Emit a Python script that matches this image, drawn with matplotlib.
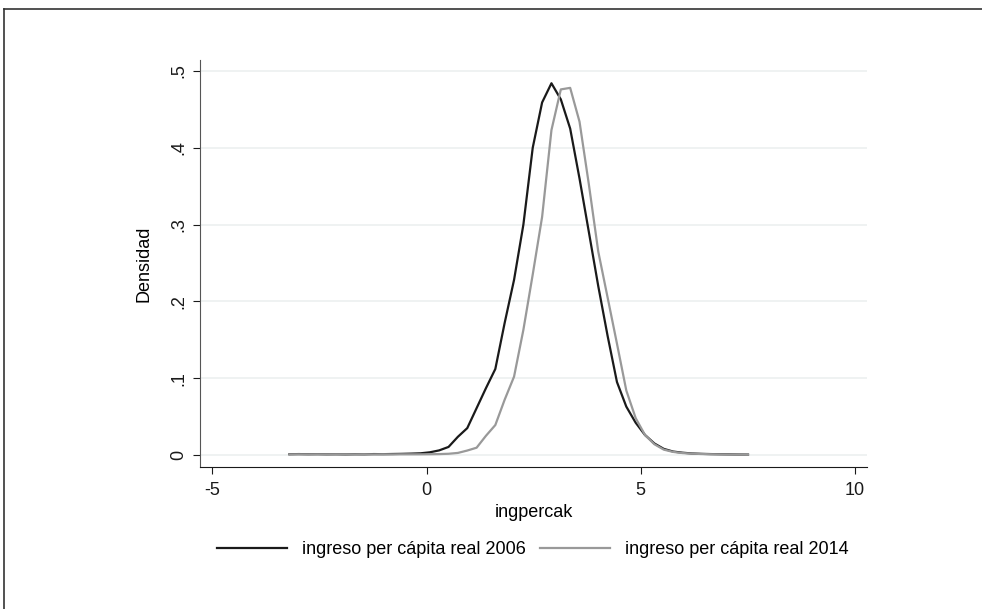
import matplotlib.pyplot as plt
from matplotlib.lines import Line2D

plt.rcParams['font.family'] = ['Liberation Sans', 'DejaVu Sans']
plt.rcParams['axes.unicode_minus'] = False

# kernel density estimates evaluated on a common grid
x_grid = [-3.200, -2.982, -2.763, -2.545, -2.326, -2.108, -1.890, -1.671, -1.453, -1.234,
          -1.016, -0.798, -0.579, -0.361, -0.142, 0.076, 0.294, 0.513, 0.731, 0.950,
          1.168, 1.386, 1.605, 1.823, 2.042, 2.260, 2.478, 2.697, 2.915, 3.134,
          3.352, 3.570, 3.789, 4.007, 4.226, 4.444, 4.662, 4.881, 5.099, 5.318,
          5.536, 5.754, 5.973, 6.191, 6.410, 6.628, 6.846, 7.065, 7.283, 7.502]

dens_2006 = [0.0010, 0.0012, 0.0010, 0.0011, 0.0009, 0.0010, 0.0008, 0.0010, 0.0009, 0.0012,
             0.0011, 0.0013, 0.0015, 0.0018, 0.0022, 0.0035, 0.0060, 0.0105, 0.0237, 0.035,
             0.061, 0.087, 0.112, 0.172, 0.228, 0.300, 0.400, 0.459, 0.484, 0.463,
             0.425, 0.360, 0.290, 0.220, 0.155, 0.095, 0.063, 0.042, 0.026, 0.015,
             0.008, 0.0045, 0.0030, 0.0020, 0.0015, 0.0012, 0.0010, 0.0008, 0.0006, 0.0005]

dens_2014 = [0.0008, 0.0009, 0.0008, 0.0009, 0.0008, 0.0009, 0.0008, 0.0008, 0.0009, 0.0008,
             0.0009, 0.0008, 0.0009, 0.0009, 0.0009, 0.0010, 0.0012, 0.0016, 0.0027, 0.0058,
             0.0095, 0.025, 0.039, 0.072, 0.102, 0.163, 0.235, 0.310, 0.423, 0.476,
             0.478, 0.434, 0.352, 0.265, 0.205, 0.145, 0.084, 0.048, 0.026, 0.014,
             0.007, 0.004, 0.0025, 0.0018, 0.0013, 0.0010, 0.0008, 0.0006, 0.0005, 0.0004]

x_ticks = [-5, 0, 5, 10]
y_ticks = [0, 0.1, 0.2, 0.3, 0.4, 0.5]
y_ticklabels = ['0', '.1', '.2', '.3', '.4', '.5']

fig = plt.figure(figsize=(9.82, 6.09), dpi=100)
ax = fig.add_axes([0.2037, 0.2332, 0.6792, 0.6683])

# outer frame (top and left edges)
fig.add_artist(Line2D([4/982, 1], [1 - 9/609, 1 - 9/609], transform=fig.transFigure,
                      color='#333333', lw=1.2))
fig.add_artist(Line2D([4/982, 4/982], [0, 1 - 9/609], transform=fig.transFigure,
                      color='#333333', lw=1.2))

for yv in y_ticks:
    ax.axhline(yv, color='#eef1f1', lw=1.3, zorder=0)

ax.plot(x_grid, dens_2006, color='#1a1a1a', lw=1.6, label='ingreso per cápita real 2006')
ax.plot(x_grid, dens_2014, color='#999999', lw=1.6, label='ingreso per cápita real 2014')

ax.set_xlim(-5.287, 10.28)
ax.set_ylim(-0.0156, 0.5143)
ax.set_xticks(x_ticks)
ax.set_yticks(y_ticks)
ax.set_yticklabels(y_ticklabels, rotation=90, va='center')
ax.tick_params(axis='both', direction='out', length=5, width=0.8, labelsize=13,
               colors='#1a1a1a')
ax.tick_params(axis='x', pad=6)
ax.tick_params(axis='y', pad=4)
for side in ['top', 'right']:
    ax.spines[side].set_visible(False)
ax.spines['left'].set_color('#555555')
ax.spines['bottom'].set_color('#1a1a1a')

ax.set_xlabel('ingpercak', fontsize=13)
ax.xaxis.set_label_coords(0.5, -0.092)
ax.set_ylabel('Densidad', fontsize=13)
ax.yaxis.set_label_coords(-0.071, 0.5)

ax.legend(loc='center', bbox_to_anchor=(0.5423, 1 - 550/609), bbox_transform=fig.transFigure,
          ncol=2, frameon=False, fontsize=13, handlelength=3.9, columnspacing=0.8,
          handletextpad=0.8)

fig.savefig('out.png', dpi=100)
